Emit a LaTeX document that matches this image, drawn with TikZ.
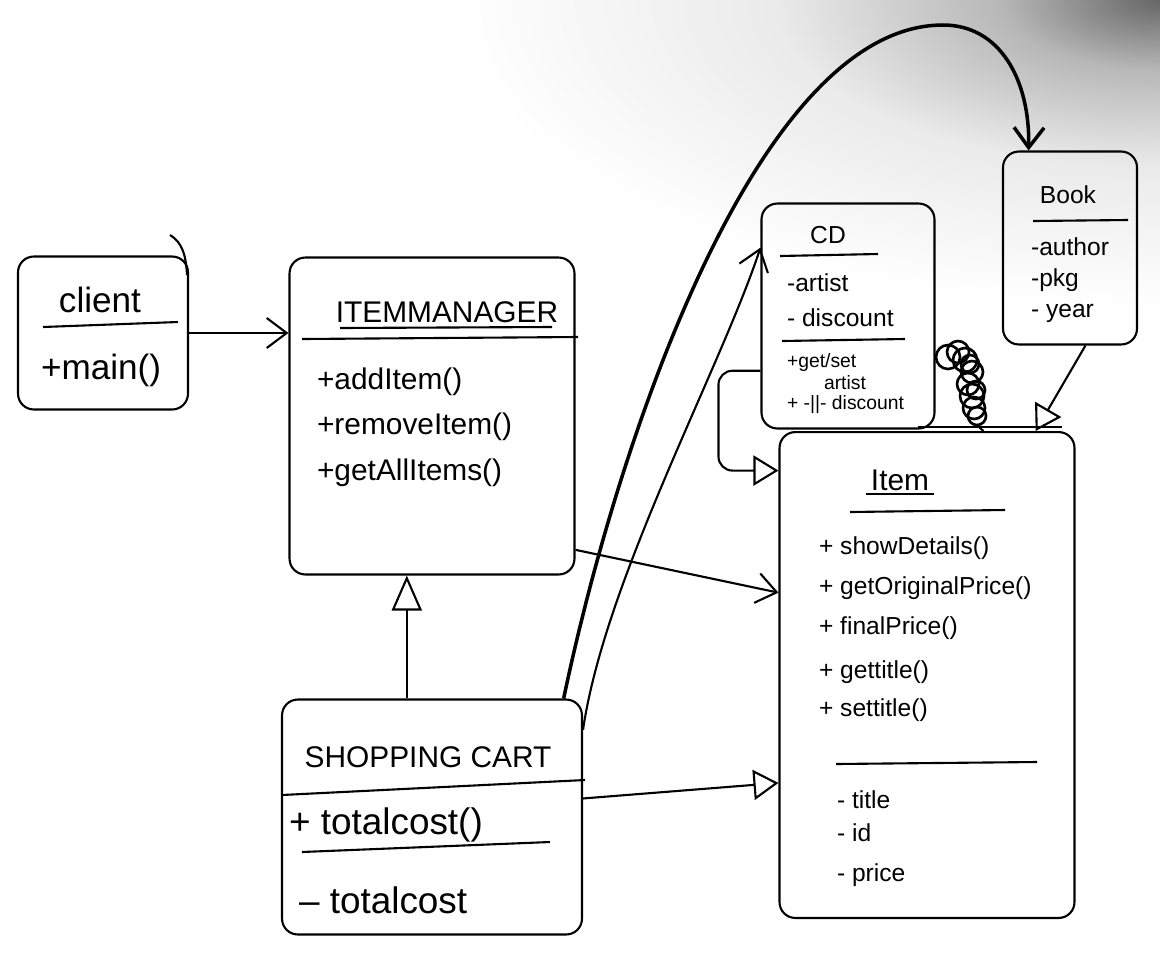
\documentclass[tikz,border=0pt]{standalone}
\usepackage{fontspec}
\setmainfont{Liberation Sans}
\usetikzlibrary{arrows.meta}

\pgfdeclareradialshading{scanshade}{\pgfpoint{0bp}{0bp}}{color(0bp)=(black!60); color(5bp)=(black!28); color(12bp)=(black!8); color(22bp)=(white); color(50bp)=(white)}

\tikzset{
  cls/.style={draw,rounded corners=9pt,inner sep=0pt},
  bigtxt/.style={font=\fontsize{20}{24}\selectfont,inner sep=0pt},
  midtxt/.style={font=\fontsize{17}{20}\selectfont,inner sep=0pt},
  hugetxt/.style={font=\fontsize{21}{25}\selectfont,inner sep=0pt},
  itemtxt/.style={font=\fontsize{14}{17}\selectfont,inner sep=0pt},
  smalltxt/.style={font=\fontsize{14}{17}\selectfont,inner sep=0pt},
  tinytxt/.style={font=\fontsize{11}{13}\selectfont,inner sep=0pt},
  gen/.style={-{Triangle[open,length=5mm,width=6mm]}},
}

\begin{document}
\begin{tikzpicture}[x=0.02cm,y=-0.02cm,line width=1.2pt,>={Straight Barb[length=4mm,width=6mm]}]
  \useasboundingbox (0,0) rectangle (1160,978);
  \fill[white] (0,0) rectangle (1160,978);
  % scanner shadow along the top edge
  \begin{scope}
    \clip (0,0) rectangle (1160,978);
    \shade[shading=scanshade] (1160,0) ellipse [x radius=16cm,y radius=7cm];
  \end{scope}

  % class boxes
  \node[cls,minimum width=3.4cm,minimum height=3.06cm] (client) at (103,333) {};
  \node[cls,minimum width=5.7cm,minimum height=6.34cm] (mgr) at (432,416) {};
  \node[cls,minimum width=6cm,minimum height=4.7cm] (cart) at (432,817) {};
  \node[cls,minimum width=5.9cm,minimum height=9.72cm] (item) at (927,675) {};
  \node[cls,minimum width=3.46cm,minimum height=4.5cm] (cd) at (848,316) {};
  \node[cls,minimum width=2.68cm,minimum height=3.86cm] (book) at (1070,248) {};
  \draw (170,235) .. controls (182,242) and (186,255) .. (187,275);

  % client
  \node[bigtxt] (clientN) at (100,300) {client};
  \draw (43,327) -- (178,322);
  \node[bigtxt,anchor=west] (clientM) at (40,370) {+main()};

  % item manager
  \node[midtxt] (mgrN) at (447,312) {ITEMMANAGER};
  \draw (340,328) -- (552,327);
  \draw (302,339) -- (578,337);
  \node[midtxt,anchor=west] (mgrA) at (316,382) {+addItem()};
  \node[midtxt,anchor=west] (mgrR) at (316,427) {+removeItem()};
  \node[midtxt,anchor=west] (mgrG) at (316,473) {+getAllItems()};

  % shopping cart
  \node[midtxt] (cartN) at (428,757) {SHOPPING CART};
  \draw (282,795) -- (585,780);
  \node[hugetxt,anchor=west] (cartM) at (288,825) {+ totalcost()};
  \draw (302,852) -- (550,842);
  \node[hugetxt,anchor=west] (cartF) at (298,900) {– totalcost};

  % item
  \node[midtxt] (itemN) at (900,480) {Item};
  \draw (866,494) -- (934,494);
  \draw (850,512) -- (1005,510);
  \node[itemtxt,anchor=west] (itemM1) at (818,548) {+ showDetails()};
  \node[itemtxt,anchor=west] (itemM2) at (818,588) {+ getOriginalPrice()};
  \node[itemtxt,anchor=west] (itemM3) at (818,628) {+ finalPrice()};
  \node[itemtxt,anchor=west] (itemM4) at (818,672) {+ gettitle()};
  \node[itemtxt,anchor=west] (itemM5) at (818,710) {+ settitle()};
  \draw (836,764) -- (1037,762);
  \node[itemtxt,anchor=west] (itemF1) at (836,800) {- title};
  \node[itemtxt,anchor=west] (itemF2) at (836,833) {- id};
  \node[itemtxt,anchor=west] (itemF3) at (836,875) {- price};
  \draw (918,427) -- (1062,427);

  % cd
  \node[smalltxt] (cdN) at (828,235) {CD};
  \draw (780,256) -- (878,254);
  \node[smalltxt,anchor=west] (cdF1) at (786,283) {-artist};
  \node[smalltxt,anchor=west] (cdF2) at (786,318) {- discount};
  \draw (782,341) -- (905,339);
  \node[tinytxt,anchor=west] (cdM1) at (786,362) {+get/set};
  \node[tinytxt] (cdM2) at (845,383) {artist};
  \node[tinytxt,anchor=west] (cdM3) at (786,405) {+ -||- discount};

  % book
  \node[smalltxt] (bookN) at (1068,195) {Book};
  \draw (1033,221) -- (1128,220);
  \node[smalltxt,anchor=west] (bookF1) at (1030,247) {-author};
  \node[smalltxt,anchor=west] (bookF2) at (1030,280) {-pkg};
  \node[smalltxt,anchor=west] (bookF3) at (1030,313) {- year};

  % scribbled link between cd and item
  \foreach \cx/\cy/\r in {948/357/12,958/352/11,965/360/12,972/372/11,968/384/11,972/396/12,974/408/11,977/416/9,970/364/9,976/390/9}
    \draw[line width=1.5pt] (\cx,\cy) circle[radius=\r*0.02cm];
  \draw (978,426) -- (item.77);

  % connectors
  \draw[->] (client.east) -- (client.east -| mgr.west);
  \draw[->] (mgr.-43) -- (item.151);
  \draw[gen] (cart.7) -- (item.216);
  \draw[-{Triangle[open,length=7mm,width=6mm]}] (cart.102) -- (cart.102 |- mgr.south);
  \draw[->] (cart.30) .. controls (605,580) and (720,370) .. (cd.142);
  \draw[->,line width=2pt] (cart.42) .. controls (620,430) and (760,25) .. (943,25)
    .. controls (1000,25) and (1030,80) .. (book.113);
  \draw[gen,rounded corners=8pt] (cd.212) -- ++(-42,0) |- (item.126);
  \draw[gen] (book.-81) -- (item.66);
\end{tikzpicture}
\end{document}
